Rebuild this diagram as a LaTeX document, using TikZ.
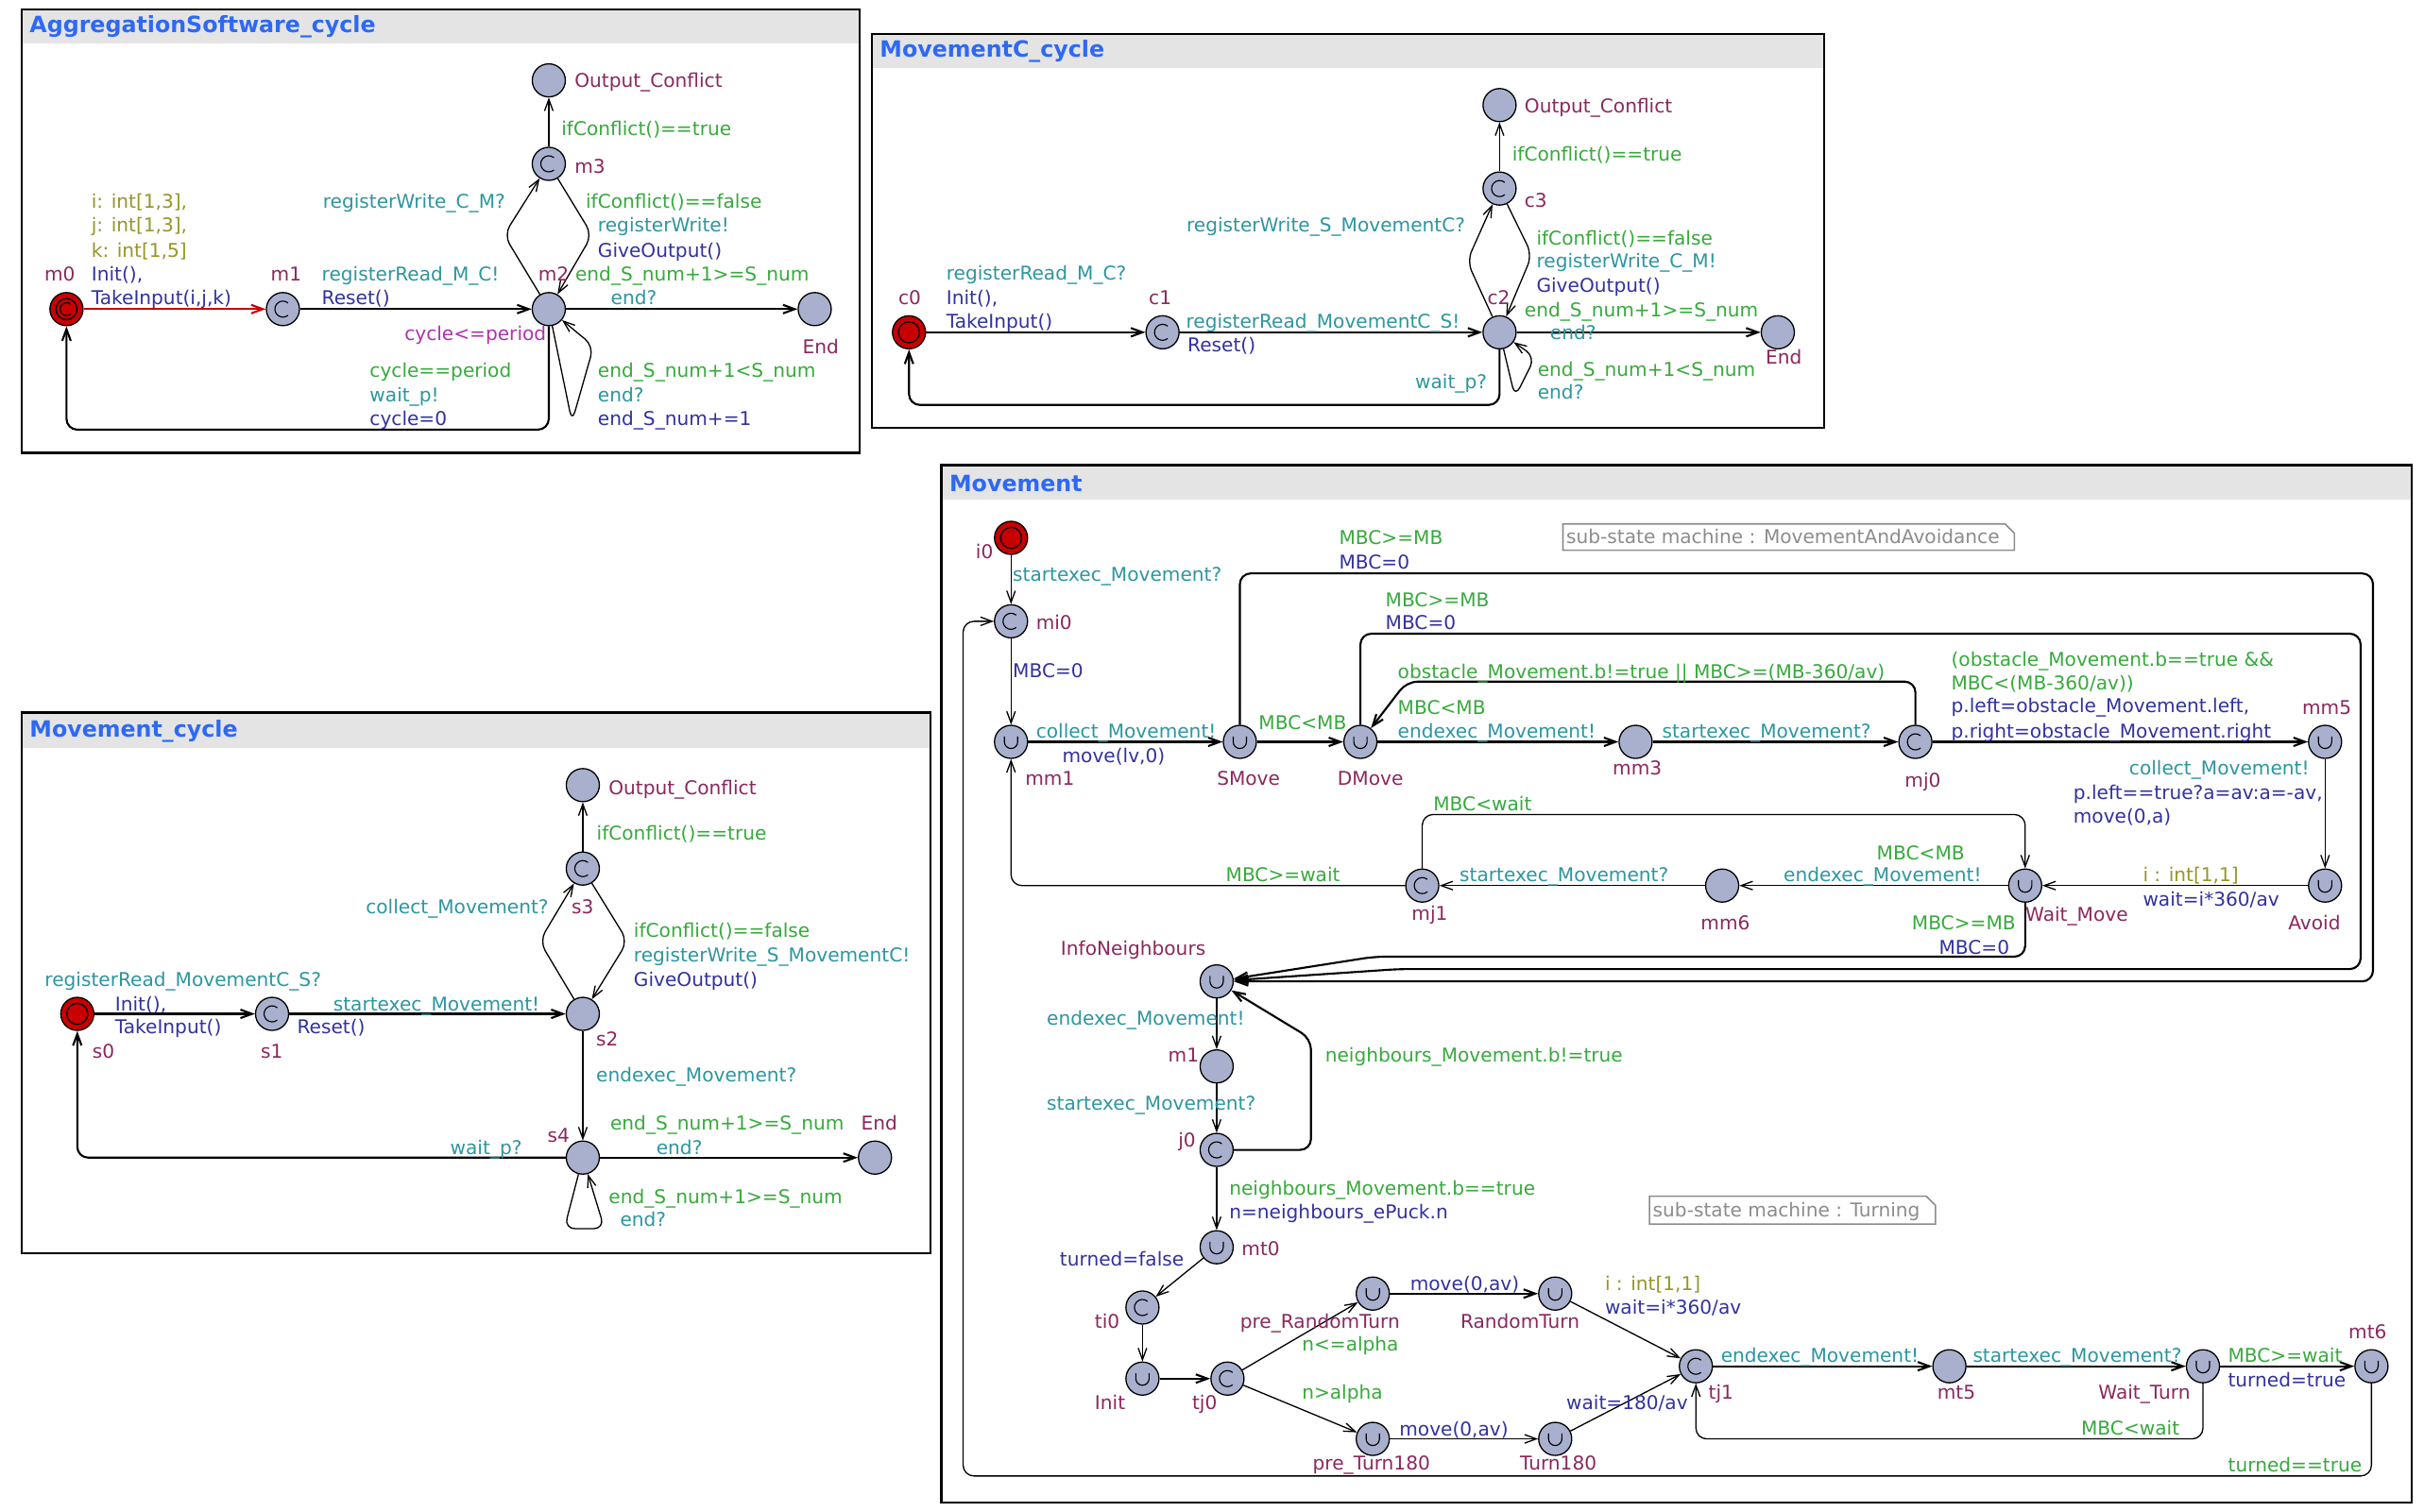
\documentclass[tikz,border=0pt]{standalone}
\usepackage{fontspec}
\setmainfont{DejaVu Sans}
\usetikzlibrary{arrows.meta}

\definecolor{namec}{RGB}{140,40,95}
\definecolor{guardc}{RGB}{55,170,60}
\definecolor{syncc}{RGB}{45,150,160}
\definecolor{updc}{RGB}{50,50,160}
\definecolor{selc}{RGB}{150,150,40}
\definecolor{invc}{RGB}{175,50,175}
\definecolor{titleblue}{RGB}{45,105,245}
\definecolor{locfill}{RGB}{168,176,205}
\definecolor{initred}{RGB}{200,0,0}
\definecolor{bargray}{RGB}{228,228,228}
\definecolor{notegray}{RGB}{140,140,140}

\tikzset{
  lbl/.style={inner sep=0pt, font=\fontsize{12.3}{15.5}\selectfont, text height=8.6pt, text depth=0pt},
  loc/.style={circle, draw=black, line width=0.8pt, fill=locfill, minimum size=21.4pt, inner sep=0pt},
  com/.style={loc, path picture={\draw[line width=0.7pt] ([shift={(50:5.2pt)}]path picture bounding box.center) arc[start angle=50,end angle=310,radius=5.2pt];}},
  urg/.style={loc, path picture={\draw[line width=0.7pt] ([shift={(-4.3pt,3.5pt)}]path picture bounding box.center) -- ++(0pt,-3.5pt) arc[start angle=180,end angle=360,radius=4.3pt] -- ++(0pt,3.5pt);}},
  iloc/.style={loc, fill=initred, path picture={\draw[line width=0.8pt] (path picture bounding box.center) circle[radius=6.8pt];}},
  iloccom/.style={loc, fill=initred, path picture={\draw[line width=0.8pt] (path picture bounding box.center) circle[radius=6.8pt];
      \draw[line width=0.7pt] ([shift={(50:4.2pt)}]path picture bounding box.center) arc[start angle=50,end angle=310,radius=4.2pt];}},
  tr/.style={-{Straight Barb[length=7.5pt,width=5.5pt]}, rounded corners=7pt},
  thk/.style={line width=1.3pt},
  thn/.style={line width=0.8pt},
  panel/.style={draw=black, line width=1.4pt},
  ttl/.style={anchor=west, inner sep=0pt, text=titleblue, font=\bfseries\fontsize{14.5}{17}\selectfont},
  notebox/.style={draw=notegray, line width=1pt},
  notetext/.style={lbl, anchor=west, text=notegray},
}

% label helpers: name, x, y (visual centre), colour, text
\newcommand\Lw[5]{\node[lbl,anchor=west,text=#4] (#1) at (#2,#3) {#5};}
\newcommand\Le[5]{\node[lbl,anchor=east,text=#4] (#1) at (#2,#3) {#5};}

\begin{document}
\begin{tikzpicture}[x=1pt,y=-1pt]
\useasboundingbox (0,0) rectangle (1568,978);
\fill[white] (0,0) rectangle (1568,978);

% ---------------- panel frames and title bars ----------------
\fill[bargray] (14,6) rectangle (556,28);
\draw[panel] (14,6) rectangle (556,293);
\node[ttl] (tA) at (19,17) {AggregationSoftware\_cycle};

\fill[bargray] (564,22) rectangle (1180,44);
\draw[panel] (564,22) rectangle (1180,277);
\node[ttl] (tB) at (569,33) {MovementC\_cycle};

\fill[bargray] (14,461) rectangle (602,484);
\draw[panel] (14,461) rectangle (602,811);
\node[ttl] (tC) at (19,473) {Movement\_cycle};

\fill[bargray] (609,301) rectangle (1560,323);
\draw[panel] (609,301) rectangle (1560,972);
\node[ttl] (tD) at (614,313) {Movement};

% ---------------- AggregationSoftware_cycle ----------------
\node[iloccom] (m0) at (43,200) {};
\node[com] (m1) at (183,200) {};
\node[loc] (m2) at (355,200) {};
\node[com] (m3) at (355,106) {};
\node[loc] (OCa) at (355,52) {};
\node[loc] (EndA) at (527,200) {};

\draw[tr,thk,draw=initred] (m0) -- (m1);
\draw[tr,thk] (m1) -- (m2);
\draw[tr,thn] (m2) -- (326,152) -- (m3);
\draw[tr,thn] (m3) -- (383,152) -- (m2);
\draw[tr,thn] (m3) -- (OCa);
\draw[tr,thk] (m2) -- (EndA);
\draw[tr,thn] (m2) -- (370,273) -- (384,224) -- (m2);
\draw[tr,thk] (m2) -- (355,278) -- (43,278) -- (m0);

\Lw{nOa}{371.5}{52}{namec}{Output\_Conflict}
\Lw{la1}{363}{83.6}{guardc}{ifConflict()==true}
\Lw{nm3}{371.5}{107.6}{namec}{m3}
\Le{la2}{327}{130.6}{syncc}{registerWrite\_C\_M?}
\Lw{la3}{378.7}{130.6}{guardc}{ifConflict()==false}
\Lw{la4}{386.6}{146}{syncc}{registerWrite!}
\Lw{la5}{386.6}{162}{updc}{GiveOutput()}
\Lw{la6}{372}{177.6}{guardc}{end\_S\_num+1>=S\_num}
\Lw{la7}{395}{193}{syncc}{end?}
\Lw{nm2}{348}{177.6}{namec}{m2}
\Lw{nm1}{175}{177.6}{namec}{m1}
\Lw{la8}{208}{177.6}{syncc}{registerRead\_M\_C!}
\Lw{la9}{208}{193}{updc}{Reset()}
\Lw{nm0}{28.6}{177.6}{namec}{m0}
\Lw{la10}{59}{130.6}{selc}{i: int[1,3],}
\Lw{la11}{59}{146}{selc}{j: int[1,3],}
\Lw{la12}{59}{162}{selc}{k: int[1,5]}
\Lw{la13}{59}{177.6}{updc}{Init(),}
\Lw{la14}{59}{193}{updc}{TakeInput(i,j,k)}
\Le{la15}{353.5}{216}{invc}{cycle<=period}
\Lw{nEa}{519}{224.5}{namec}{End}
\Lw{la16}{239}{240}{guardc}{cycle==period}
\Lw{la17}{239}{256}{syncc}{wait\_p!}
\Lw{la18}{239}{271}{updc}{cycle=0}
\Lw{la19}{386.6}{240}{guardc}{end\_S\_num+1<S\_num}
\Lw{la20}{386.6}{256}{syncc}{end?}
\Lw{la21}{386.6}{271}{updc}{end\_S\_num+=1}

% ---------------- MovementC_cycle ----------------
\node[iloc] (c0) at (588,215) {};
\node[com] (c1) at (752,215) {};
\node[loc] (c2) at (970,215) {};
\node[com] (c3) at (970,122) {};
\node[loc] (OCb) at (970,68) {};
\node[loc] (EndB) at (1150,215) {};

\draw[tr,thk] (c0) -- (c1);
\draw[tr,thk] (c1) -- (c2);
\draw[tr,thn] (c2) -- (949,169) -- (c3);
\draw[tr,thn] (c3) -- (991,165) -- (c2);
\draw[tr,thn] (c3) -- (OCb);
\draw[tr,thk] (c2) -- (EndB);
\draw[tr,thn] (c2) -- (980,257) -- (993,231) -- (c2);
\draw[tr,thk] (c2) -- (970,262) -- (588,262) -- (c0);

\Lw{nOb}{986}{68.6}{namec}{Output\_Conflict}
\Lw{lb1}{978}{100}{guardc}{ifConflict()==true}
\Lw{nc3}{986}{130}{namec}{c3}
\Le{lb2}{948}{146}{syncc}{registerWrite\_S\_MovementC?}
\Lw{lb3}{993.7}{154}{guardc}{ifConflict()==false}
\Lw{lb4}{993.7}{169}{syncc}{registerWrite\_C\_M!}
\Lw{lb5}{993.7}{184.6}{updc}{GiveOutput()}
\Lw{nc2}{962}{192.7}{namec}{c2}
\Lw{lb6}{986}{201}{guardc}{end\_S\_num+1>=S\_num}
\Lw{lb7}{1002.5}{215.4}{syncc}{end?}
\Lw{nc0}{581}{192.7}{namec}{c0}
\Lw{nc1}{743}{192.7}{namec}{c1}
\Lw{lb8}{612}{177}{syncc}{registerRead\_M\_C?}
\Lw{lb9}{612}{192.7}{updc}{Init(),}
\Lw{lb10}{612}{208}{updc}{TakeInput()}
\Lw{lb11}{767}{208}{syncc}{registerRead\_MovementC\_S!}
\Lw{lb12}{768}{223.5}{updc}{Reset()}
\Lw{nEb}{1142}{231}{namec}{End}
\Le{lb13}{962}{247}{syncc}{wait\_p?}
\Lw{lb14}{994.5}{239}{guardc}{end\_S\_num+1<S\_num}
\Lw{lb15}{994.5}{254}{syncc}{end?}

% ---------------- Movement_cycle ----------------
\node[iloc] (s0) at (50,656) {};
\node[com] (s1) at (176,656) {};
\node[loc] (s2) at (377,656) {};
\node[com] (s3) at (377,562) {};
\node[loc] (OCc) at (377,508) {};
\node[loc] (s4) at (377,749) {};
\node[loc] (EndC) at (566,749) {};

\draw[tr,thk] (s0) -- (s1);
\draw[tr,thk] (s1) -- (s2);
\draw[tr,thn] (s2) -- (349,609) -- (s3);
\draw[tr,thn] (s3) -- (406,609) -- (s2);
\draw[tr,thn] (s3) -- (OCc);
\draw[tr,thn] (s2) -- (s4);
\draw[tr,thk] (s4) -- (EndC);
\draw[tr,thn] (s4) -- (365,795) -- (391,795) -- (s4);
\draw[tr,thk] (s4) -- (50,749) -- (s0);

\Lw{nOc}{393.5}{509.6}{namec}{Output\_Conflict}
\Lw{lc1}{385.8}{539.5}{guardc}{ifConflict()==true}
\Le{lc2}{355}{586.6}{syncc}{collect\_Movement?}
\Lw{ns3}{369.6}{586.6}{namec}{s3}
\Lw{lc3}{409.8}{602}{guardc}{ifConflict()==false}
\Lw{lc4}{409.8}{618}{syncc}{registerWrite\_S\_MovementC!}
\Lw{lc5}{409.8}{634}{updc}{GiveOutput()}
\Lw{lc6}{28.8}{634}{syncc}{registerRead\_MovementC\_S?}
\Lw{lc7}{74.3}{649.6}{updc}{Init(),}
\Lw{lc8}{74.3}{664.6}{updc}{TakeInput()}
\Lw{lc9}{215.4}{649.6}{syncc}{startexec\_Movement!}
\Lw{lc10}{192}{664.6}{updc}{Reset()}
\Lw{ns0}{59.6}{680.6}{namec}{s0}
\Lw{ns1}{168.5}{680.6}{namec}{s1}
\Lw{ns2}{385.5}{672.6}{namec}{s2}
\Lw{lc11}{385.5}{695.6}{syncc}{endexec\_Movement?}
\Lw{lc12}{394.6}{726.7}{guardc}{end\_S\_num+1>=S\_num}
\Lw{nEc}{556.8}{726.7}{namec}{End}
\Lw{lc13}{424.4}{743}{syncc}{end?}
\Lw{ns4}{354}{734.7}{namec}{s4}
\Le{lc14}{337.8}{743}{syncc}{wait\_p?}
\Lw{lc15}{393.6}{774.3}{guardc}{end\_S\_num+1>=S\_num}
\Lw{lc16}{401}{789}{syncc}{end?}

% ---------------- Movement ----------------
\draw[notebox] (1011,339) -- (1297,339) -- (1303,345) -- (1303,356) -- (1011,356) -- cycle;
\node[notetext] (noteA) at (1013,347.5) {sub-state machine : MovementAndAvoidance};
\draw[notebox] (1067,774) -- (1246,774) -- (1252,780) -- (1252,792) -- (1067,792) -- cycle;
\node[notetext] (noteB) at (1069,783) {sub-state machine : Turning};

\node[iloc] (i0) at (654,348) {};
\node[com] (mi0) at (654,402) {};
\node[urg] (mm1) at (654,480) {};
\node[urg] (SMove) at (802,480) {};
\node[urg] (DMove) at (880,480) {};
\node[loc] (mm3) at (1058,480) {};
\node[com] (mj0) at (1239,480) {};
\node[urg] (mm5) at (1504,480) {};
\node[urg] (Avoid) at (1504,573) {};
\node[urg] (WaitMove) at (1310,573) {};
\node[loc] (mm6) at (1114,573) {};
\node[com] (mj1) at (920,573) {};
\node[urg] (Info) at (787,635) {};
\node[loc] (dm1) at (787,690) {};
\node[com] (j0) at (787,744) {};
\node[urg] (mt0) at (787,807) {};
\node[com] (ti0) at (739,846) {};
\node[urg] (Init) at (739,892) {};
\node[com] (tj0) at (794,892) {};
\node[urg] (preRT) at (888,837) {};
\node[urg] (RT) at (1006,837) {};
\node[urg] (preT) at (888,931) {};
\node[urg] (T180) at (1006,931) {};
\node[com] (tj1) at (1097,884) {};
\node[loc] (mt5) at (1261,884) {};
\node[urg] (WaitTurn) at (1425,884) {};
\node[urg] (mt6) at (1534,884) {};

\draw[tr,thn] (i0) -- (mi0);
\draw[tr,thn] (mi0) -- (mm1);
\draw[tr,thk] (mm1) -- (SMove);
\draw[tr,thk] (SMove) -- (DMove);
\draw[tr,thk] (DMove) -- (mm3);
\draw[tr,thk] (mm3) -- (mj0);
\draw[tr,thk] (mj0) -- (mm5);
\draw[tr,thk] (mj0) -- (1239,441) -- (910,441) -- (DMove);
\draw[tr,thn] (mm5) -- (Avoid);
\draw[tr,thn] (Avoid) -- (WaitMove);
\draw[tr,thn] (WaitMove) -- (mm6);
\draw[tr,thn] (mm6) -- (mj1);
\draw[tr,thn] (mj1) -- (920,527) -- (1310,527) -- (WaitMove);
\draw[tr,thn] (mj1) -- (654,573) -- (mm1);
\draw[tr,thk] (SMove) -- (802,371) -- (1535,371) -- (1535,635) -- (Info);
\draw[tr,thk] (DMove) -- (880,410) -- (1527,410) -- (1527,627) -- (905,627) -- (Info);
\draw[tr,thk] (WaitMove) -- (1310,619) -- (889,619) -- (Info);
\draw[tr,thn] (Info) -- (dm1);
\draw[tr,thn] (dm1) -- (j0);
\draw[tr,thk] (j0) -- (848,744) -- (848,672) -- (Info);
\draw[tr,thn] (j0) -- (mt0);
\draw[tr,thn] (mt0) -- (ti0);
\draw[tr,thn] (ti0) -- (Init);
\draw[tr,thk] (Init) -- (tj0);
\draw[tr,thn] (tj0) -- (preRT);
\draw[tr,thn] (tj0) -- (preT);
\draw[tr,thk] (preRT) -- (RT);
\draw[tr,thn] (preT) -- (T180);
\draw[tr,thn] (RT) -- (tj1);
\draw[tr,thn] (T180) -- (tj1);
\draw[tr,thk] (tj1) -- (mt5);
\draw[tr,thk] (mt5) -- (WaitTurn);
\draw[tr,thk] (WaitTurn) -- (mt6);
\draw[tr,thn] (WaitTurn) -- (1425,931) -- (1097,931) -- (tj1);
\draw[tr,thn] (mt6) -- (1534,955) -- (623,955) -- (623,402) -- (mi0);

\Lw{ni0}{631}{357}{namec}{i0}
\Lw{ld1}{655}{372}{syncc}{startexec\_Movement?}
\Lw{nmi0}{670}{403}{namec}{mi0}
\Lw{ld2}{655}{434}{updc}{MBC=0}
\Lw{ld3}{670}{473}{syncc}{collect\_Movement!}
\Lw{ld4}{687}{489}{updc}{move(lv,0)}
\Lw{nmm1}{663}{504}{namec}{mm1}
\Lw{ld5}{814}{468}{guardc}{MBC<MB}
\Lw{nSM}{787}{504}{namec}{SMove}
\Lw{nDM}{865}{504}{namec}{DMove}
\Lw{ld6}{866}{348}{guardc}{MBC>=MB}
\Lw{ld7}{866}{364}{updc}{MBC=0}
\Lw{ld8}{896}{388}{guardc}{MBC>=MB}
\Lw{ld9}{896}{403}{updc}{MBC=0}
\Lw{ld10}{904}{435}{guardc}{obstacle\_Movement.b!=true || MBC>=(MB-360/av)}
\Lw{ld11}{904}{458}{guardc}{MBC<MB}
\Lw{ld12}{904}{473.5}{syncc}{endexec\_Movement!}
\Lw{nmm3}{1043}{497}{namec}{mm3}
\Lw{ld13}{1075}{473}{syncc}{startexec\_Movement?}
\Lw{nmj0}{1232}{505}{namec}{mj0}
\Lw{ld14}{1262}{427}{guardc}{(obstacle\_Movement.b==true \&\&}
\Lw{ld15}{1262}{442}{guardc}{MBC<(MB-360/av))}
\Lw{ld16}{1262}{457}{updc}{p.left=obstacle\_Movement.left,}
\Lw{ld17}{1262}{473}{updc}{p.right=obstacle\_Movement.right}
\Lw{nmm5}{1489}{458}{namec}{mm5}
\Le{ld18}{1494}{497}{syncc}{collect\_Movement!}
\Lw{ld19}{1341}{513}{updc}{p.left==true?a=av:a=-av,}
\Lw{ld20}{1341}{528}{updc}{move(0,a)}
\Lw{nAv}{1480}{597}{namec}{Avoid}
\Lw{ld21}{1386}{566}{selc}{i : int[1,1]}
\Lw{ld22}{1386}{582}{updc}{wait=i*360/av}
\Lw{nWM}{1310}{592}{namec}{Wait\_Move}
\Le{ld23}{1271}{552}{guardc}{MBC<MB}
\Le{ld24}{1282}{566}{syncc}{endexec\_Movement!}
\Lw{nmm6}{1100}{597}{namec}{mm6}
\Lw{ld25}{944}{566}{syncc}{startexec\_Movement?}
\Lw{nmj1}{913}{591}{namec}{mj1}
\Lw{ld26}{927}{520}{guardc}{MBC<wait}
\Le{ld27}{867}{566}{guardc}{MBC>=wait}
\Le{ld28}{1304}{597}{guardc}{MBC>=MB}
\Le{ld29}{1300}{613}{updc}{MBC=0}
\Lw{nIN}{686}{614}{namec}{InfoNeighbours}
\Lw{ld30}{677}{659}{syncc}{endexec\_Movement!}
\Lw{ndm1}{755.5}{683}{namec}{m1}
\Lw{ld31}{677}{714}{syncc}{startexec\_Movement?}
\Lw{nj0}{762}{738}{namec}{j0}
\Lw{ld32}{857}{683}{guardc}{neighbours\_Movement.b!=true}
\Lw{ld33}{795}{769}{guardc}{neighbours\_Movement.b==true}
\Lw{ld34}{795}{784}{updc}{n=neighbours\_ePuck.n}
\Lw{nmt0}{803}{808}{namec}{mt0}
\Le{ld35}{766}{815}{updc}{turned=false}
\Lw{nti0}{708}{855}{namec}{ti0}
\Lw{nInit}{708}{908}{namec}{Init}
\Lw{ntj0}{771}{908}{namec}{tj0}
\Lw{npRT}{802}{855}{namec}{pre\_RandomTurn}
\Lw{ld36}{842}{870}{guardc}{n<=alpha}
\Lw{ld37}{842}{901}{guardc}{n>alpha}
\Lw{ld38}{912}{831}{updc}{move(0,av)}
\Lw{nRT}{944.5}{855}{namec}{RandomTurn}
\Lw{ld39}{905}{925}{updc}{move(0,av)}
\Lw{npT}{849}{947}{namec}{pre\_Turn180}
\Lw{nT180}{983}{947}{namec}{Turn180}
\Lw{ld40}{1038}{830.5}{selc}{i : int[1,1]}
\Lw{ld41}{1038}{846}{updc}{wait=i*360/av}
\Lw{ld42}{1013}{908}{updc}{wait=180/av}
\Lw{ntj1}{1105}{901}{namec}{tj1}
\Lw{ld43}{1113}{877}{syncc}{endexec\_Movement!}
\Lw{nmt5}{1253}{901}{namec}{mt5}
\Lw{ld44}{1276}{877}{syncc}{startexec\_Movement?}
\Le{nWT}{1417}{901}{namec}{Wait\_Turn}
\Lw{ld45}{1441}{877}{guardc}{MBC>=wait}
\Lw{ld46}{1441}{893}{updc}{turned=true}
\Lw{nmt6}{1519}{862}{namec}{mt6}
\Le{ld47}{1410}{924}{guardc}{MBC<wait}
\Le{ld48}{1528}{948}{guardc}{turned==true}
\end{tikzpicture}
\end{document}
